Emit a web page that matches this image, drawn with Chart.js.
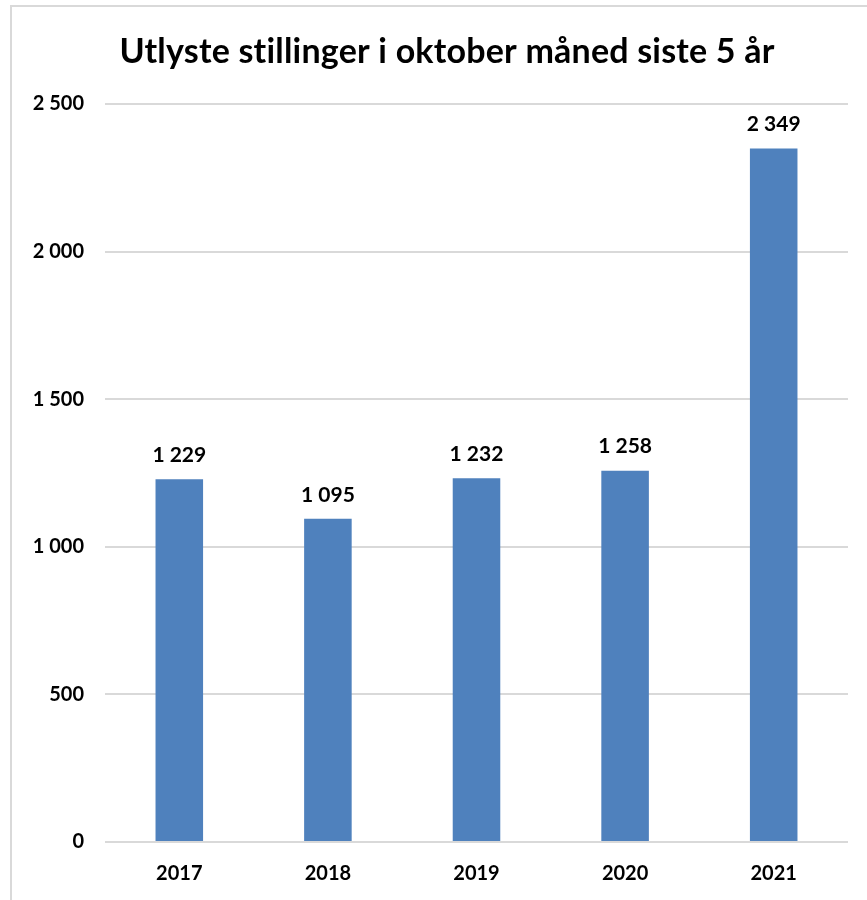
<!DOCTYPE html>
<html>
<head>
<meta charset="utf-8">
<script src="https://cdn.jsdelivr.net/npm/chart.js@4"></script>
<style>
  html, body { margin: 0; padding: 0; background: #fff; overflow: hidden; }
  #wrap { position: relative; width: 867px; height: 900px; }
  #frame { position: absolute; left: 10px; top: 5px; width: 900px; height: 950px; border: 2px solid #d9d9d9; box-sizing: border-box; }
  #chart { position: absolute; left: 0; top: 0; }
</style>
</head>
<body>
<div id="wrap">
  <div id="frame"></div>
  <canvas id="chart" width="867" height="900"></canvas>
</div>
<script>
const years = ["2017", "2018", "2019", "2020", "2021"];
const postings = [1229, 1095, 1232, 1258, 2349];
const yTicks = [0, 500, 1000, 1500, 2000, 2500];
const titleText = "Utlyste stillinger i oktober måned siste 5 år";

const FONT = "Lato, 'Open Sans', sans-serif";

function spaced(n) {
  return String(n).replace(/\B(?=(\d{3})+(?!\d))/g, " ");
}

// values above the bars + the title (centred on the frame, not the canvas)
const barLabels = {
  id: "barLabels",
  afterDatasetsDraw(chart) {
    const ctx = chart.ctx;
    const meta = chart.getDatasetMeta(0);
    ctx.save();
    ctx.font = "bold 21px " + FONT;
    ctx.fillStyle = "#000";
    ctx.textAlign = "center";
    ctx.textBaseline = "middle";
    meta.data.forEach((bar, i) => {
      ctx.fillText(spaced(chart.data.datasets[0].data[i]), bar.x, bar.y - 24);
    });
    ctx.font = "bold 34px " + FONT;
    ctx.letterSpacing = "0.2px"; // keeps Lato from joining "ti"
    ctx.fillText(titleText, 447, 52);
    ctx.restore();
  },
};

const ctx = document.getElementById("chart");
const chart = new Chart(ctx, {
  type: "bar",
  data: {
    labels: years,
    datasets: [
      {
        label: "Utlyste stillinger",
        data: postings,
        backgroundColor: "#4f81bd",
        borderWidth: 0,
        barPercentage: 0.32,
        categoryPercentage: 1,
      },
    ],
  },
  options: {
    responsive: false,
    animation: false,
    layout: { padding: { left: 0, right: 19, top: 104, bottom: 0 } },
    plugins: {
      legend: { display: false },
      tooltip: { enabled: false },
      title: { display: false },
    },
    scales: {
      x: {
        grid: { display: false },
        border: { display: false },
        ticks: {
          color: "#000",
          font: { family: FONT, size: 20, weight: "bold" },
          padding: 12,
        },
        afterFit(s) { s.height = 58; },
      },
      y: {
        min: 0,
        max: 2500,
        afterBuildTicks(s) { s.ticks = yTicks.map(v => ({ value: v })); },
        grid: { color: "#d9d9d9", lineWidth: 2, drawTicks: false },
        border: { display: false },
        ticks: {
          color: "#000",
          font: { family: FONT, size: 20, weight: "bold" },
          padding: 21,
          callback: v => spaced(v),
        },
        afterFit(s) { s.width = 105; },
      },
    },
  },
  plugins: [barLabels],
});
</script>
</body>
</html>
